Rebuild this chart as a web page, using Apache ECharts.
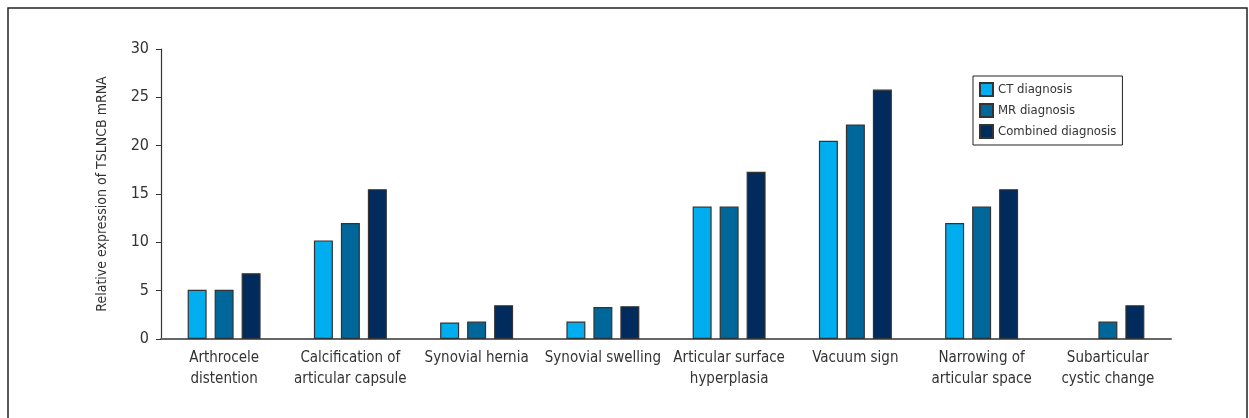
<!DOCTYPE html>
<html>
<head>
<meta charset="utf-8">
<script src="https://cdn.jsdelivr.net/npm/echarts@6/dist/echarts.min.js"></script>
<style>
  html, body { margin: 0; padding: 0; background: #fff; }
  #main { width: 1249px; height: 418px; }
</style>
</head>
<body>
<div id="main"></div>
<script>
var categories = ['Arthrocele\ndistention', 'Calcification of\narticular capsule', 'Synovial hernia',
    'Synovial swelling', 'Articular surface\nhyperplasia', 'Vacuum sign',
    'Narrowing of\narticular space', 'Subarticular\ncystic change'];
// CT has no bar for the last category
var ctValues = [5.1, 10.2, 1.7, 1.8, 13.7, 20.5, 12.0, null];
var mrValues = [5.1, 12.0, 1.8, 3.3, 13.7, 22.2, 13.7, 1.8];
var combinedValues = [6.8, 15.5, 3.5, 3.4, 17.3, 25.8, 15.5, 3.5];
var seriesNames = ['CT diagnosis', 'MR diagnosis', 'Combined diagnosis'];

var font = '"Liberation Sans Narrow", "DejaVu Sans Condensed", "Roboto Condensed", sans-serif';
var colors = ['#00aeef', '#00679a', '#002b5c'];

function barSeries(name, data, i) {
    return {
        name: name,
        type: 'bar',
        data: data,
        barWidth: 19,
        barGap: '42%',
        itemStyle: { color: colors[i], borderColor: '#333', borderWidth: 1.2 }
    };
}

var option = {
    animation: false,
    textStyle: { fontFamily: font },
    graphic: [{
        type: 'rect',
        shape: { x: 8, y: 8, width: 1239, height: 420 },
        style: { fill: 'none', stroke: '#222', lineWidth: 1.5 },
        silent: true
    }],
    grid: { left: 161, top: 49, width: 1010, height: 290 },
    legend: {
        orient: 'vertical',
        left: 973,
        top: 76,
        padding: [6, 6, 6, 6],
        itemGap: 6,
        itemWidth: 13,
        itemHeight: 13,
        icon: 'rect',
        borderColor: '#222',
        borderWidth: 1,
        textStyle: { fontFamily: font, fontSize: 13, color: '#333' },
        data: seriesNames
    },
    xAxis: {
        type: 'category',
        data: categories,
        axisLine: { lineStyle: { color: '#666', width: 2 } },
        axisTick: { show: false },
        axisLabel: {
            interval: 0,
            margin: 9,
            fontFamily: font,
            fontSize: 15,
            lineHeight: 21,
            color: '#333'
        }
    },
    yAxis: {
        type: 'value',
        min: 0,
        max: 30,
        interval: 5,
        name: 'Relative expression of TSLNCB mRNA',
        nameLocation: 'middle',
        nameGap: 52,
        nameTextStyle: { fontFamily: font, fontSize: 14, color: '#333' },
        splitLine: { show: false },
        axisLine: { show: true, lineStyle: { color: '#333', width: 1.2 } },
        axisTick: { show: true, length: 5, lineStyle: { color: '#333' } },
        axisLabel: { fontFamily: font, fontSize: 16, color: '#333', margin: 12 }
    },
    series: [
        barSeries(seriesNames[0], ctValues, 0),
        barSeries(seriesNames[1], mrValues, 1),
        barSeries(seriesNames[2], combinedValues, 2)
    ]
};

var myChart = echarts.init(document.getElementById('main'));
myChart.setOption(option);
</script>
</body>
</html>
